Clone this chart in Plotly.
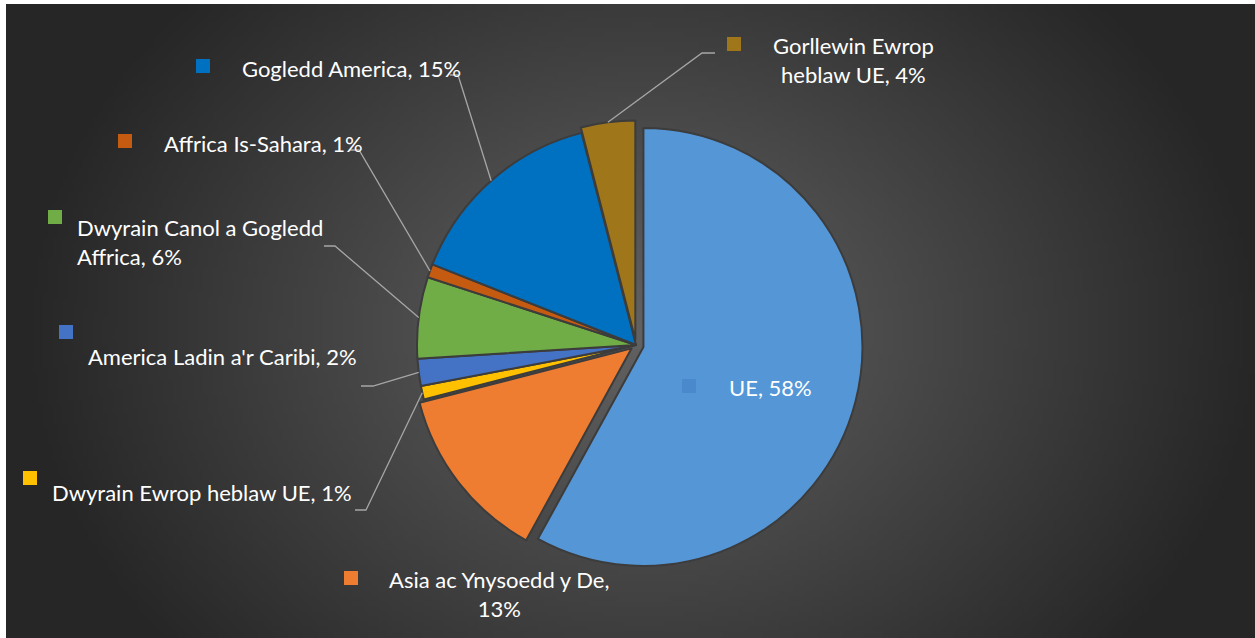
import math, zlib, struct, base64
import plotly.graph_objects as go

# ---------------- data ----------------
categories = ["UE", "Asia ac Ynysoedd y De", "Dwyrain Ewrop heblaw UE",
              "America Ladin a'r Caribi", "Dwyrain Canol a Gogledd Affrica",
              "Affrica Is-Sahara", "Gogledd America", "Gorllewin Ewrop heblaw UE"]
shares = [58, 13, 1, 2, 6, 1, 15, 4]
label_texts = ["UE, 58%", "Asia ac Ynysoedd y De,<br>13%", "Dwyrain Ewrop heblaw UE, 1%",
               "America Ladin a'r Caribi, 2%", "Dwyrain Canol a Gogledd<br>Affrica, 6%",
               "Affrica Is-Sahara, 1%", "Gogledd America, 15%", "Gorllewin Ewrop<br>heblaw UE, 4%"]

# ---------------- style ----------------
colors = ["#5596d6", "#ee7d31", "#ffc000", "#4472c4", "#70ad47", "#c55a11", "#0070c0", "#a0761a"]
key_colors = ["#4a89cb", "#ee7d31", "#ffc000", "#4472c4", "#70ad47", "#c55a11", "#0070c0", "#a0761a"]
pulls = [0.035, 0.025, 0, 0, 0, 0, 0, 0.025]

W, H = 1255, 638
CX, CY, R = 636, 345, 219          # pie centre / radius in pixels
maxpull = max(pulls)
half = R * (1 + maxpull)

def px(x):
    return x / W

def py(y):
    return 1 - y / H

# label layout (pixels): text anchor x, y, xanchor, align, square (x0,y0), leader points from label side
label_layout = [
    dict(x=727, y=388, xa="left", al="left", sq=(682, 379), lead=None),
    dict(x=499, y=594, xa="center", al="center", sq=(344, 571), lead=None),
    dict(x=50, y=492, xa="left", al="left", sq=(23, 471), lead=[(355, 510), (366, 510)]),
    dict(x=86, y=356, xa="left", al="left", sq=(59, 325), lead=[(361, 386), (373, 386)]),
    dict(x=75, y=242, xa="left", al="left", sq=(48, 210), lead=[(324, 246), (335, 246)]),
    dict(x=162, y=143, xa="left", al="left", sq=(118, 134), lead=[(350, 150), (359, 150)]),
    dict(x=240, y=68, xa="left", al="left", sq=(196, 59), lead=[(450, 75), (458, 75)]),
    dict(x=853, y=60, xa="center", al="center", sq=(727, 37), lead=[(715, 53), (702, 53)]),
]
SQ = 14

# ---------------- background gradient image ----------------
def make_png(w, h, rows):
    raw = b"".join(b"\x00" + bytes(r) for r in rows)
    def chunk(t, d):
        c = struct.pack(">I", len(d)) + t + d
        return c + struct.pack(">I", zlib.crc32(t + d) & 0xffffffff)
    return (b"\x89PNG\r\n\x1a\n"
            + chunk(b"IHDR", struct.pack(">IIBBBBB", w, h, 8, 0, 0, 0, 0))
            + chunk(b"IDAT", zlib.compress(raw, 9))
            + chunk(b"IEND", b""))

gw, gh = 250, 126
rows = []
for j in range(gh):
    yy = (j + 0.5) / gh * H
    row = []
    for i in range(gw):
        xx = (i + 0.5) / gw * W
        t = math.sqrt(((xx - 640) / 620) ** 2 + ((yy - 330) / 500) ** 2)
        c = 98 - 60 * min(t, 1.0)
        row.append(max(38, min(255, int(round(c)))))
    rows.append(row)
png_uri = "data:image/png;base64," + base64.b64encode(make_png(gw, gh, rows)).decode()

# ---------------- figure ----------------
fig = go.Figure()
fig.add_trace(go.Pie(
    labels=categories, values=shares, sort=False, direction="clockwise", rotation=0,
    pull=pulls, marker=dict(colors=colors, line=dict(color="#3c3c3c", width=2)),
    textinfo="none", hoverinfo="skip", showlegend=False,
    domain=dict(x=[px(CX - half - 20), px(CX + half + 20)], y=[py(CY + half), py(CY - half)]),
))

shapes = []
annotations = []
total = sum(shares)
cum = 0
for i, v in enumerate(shares):
    mid = (cum + v / 2) / total
    cum += v
    th = 2 * math.pi * mid
    rr = R * (1 + pulls[i])
    ex, ey = CX + rr * math.sin(th), CY - rr * math.cos(th)
    L = label_layout[i]
    if L["lead"]:
        pts = L["lead"] + [(ex, ey)]
        path = "M " + " L ".join(f"{px(a):.5f},{py(b):.5f}" for a, b in pts)
        shapes.append(dict(type="path", xref="paper", yref="paper", path=path,
                           line=dict(color="#a6a6a6", width=1.3)))
    sx, sy = L["sq"]
    shapes.append(dict(type="rect", xref="paper", yref="paper",
                       x0=px(sx), x1=px(sx + SQ), y0=py(sy + SQ), y1=py(sy),
                       fillcolor=key_colors[i], line=dict(width=0)))
    annotations.append(dict(x=px(L["x"]), y=py(L["y"]), xref="paper", yref="paper",
                            text=label_texts[i], showarrow=False,
                            xanchor=L["xa"], yanchor="middle", align=L["al"],
                            font=dict(family="Lato", size=22, color="#ffffff")))

fig.update_layout(
    width=W, height=H, margin=dict(l=0, r=0, t=0, b=0),
    paper_bgcolor="#ffffff", plot_bgcolor="rgba(0,0,0,0)",
    images=[dict(source=png_uri, xref="paper", yref="paper", x=px(6), y=py(4),
                 sizex=1 - px(6), sizey=py(4), xanchor="left", yanchor="top",
                 sizing="stretch", layer="below")],
    shapes=shapes, annotations=annotations,
)
fig.write_html("out.html", config={"displayModeBar": False},
               post_script="document.body.style.margin='0';document.body.style.overflow='hidden';")
